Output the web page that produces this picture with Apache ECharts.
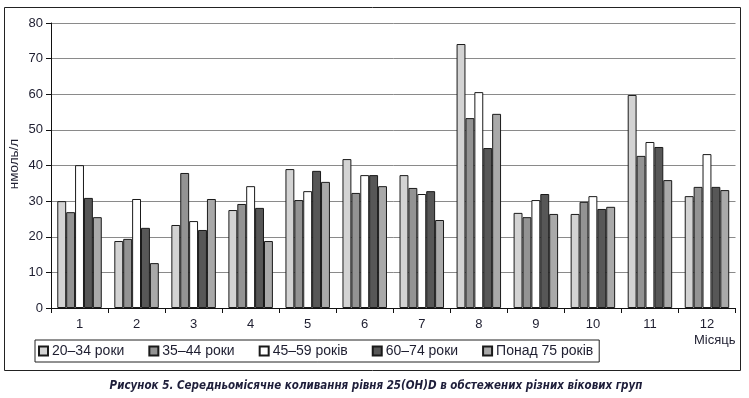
<!DOCTYPE html>
<html>
<head>
<meta charset="utf-8">
<script src="https://cdn.jsdelivr.net/npm/echarts@6/dist/echarts.min.js"></script>
<style>
html,body{margin:0;padding:0;background:#fff;}
#c{width:749px;height:398px;}
</style>
</head>
<body>
<div id="c"></div>
<script>
var months = ['1','2','3','4','5','6','7','8','9','10','11','12'];
var seriesNames = ['20–34 роки','35–44 роки','45–59 років','60–74 роки','Понад 75 років'];
var s20_34 = [30.0, 18.8, 23.3, 27.5, 39.0, 41.8, 37.3, 74.1, 26.7, 26.4, 59.8, 31.4];
var s35_44 = [26.9, 19.4, 37.9, 29.2, 30.3, 32.3, 33.7, 53.3, 25.5, 29.8, 42.7, 34.0];
var s45_59 = [40.1, 30.6, 24.4, 34.2, 32.8, 37.3, 32.0, 60.6, 30.3, 31.4, 46.6, 43.2];
var s60_74 = [30.9, 22.5, 21.9, 28.1, 38.5, 37.3, 32.8, 44.9, 32.0, 27.8, 45.2, 34.0];
var s75 = [25.5, 12.6, 30.6, 18.8, 35.4, 34.2, 24.7, 54.5, 26.4, 28.4, 35.9, 33.1];
var yTicks = [0,10,20,30,40,50,60,70,80];
var colors = ['#d3d3d3','#939393','#ffffff','#575757','#a9a9a9'];
var allData = [s20_34, s35_44, s45_59, s60_74, s75];

var textColor = '#1e1e30';
var font = '"Liberation Sans", Arial, sans-serif';

var chart = echarts.init(document.getElementById('c'), null, {renderer:'canvas'});
var series = seriesNames.map(function(n,i){
  return {
    name: n, type: 'bar', data: allData[i],
    barGap: '0%', barCategoryGap: '22%',
    itemStyle: {color: colors[i], borderColor: '#1a1a1a', borderWidth: 1},
    emphasis: {disabled: true}
  };
});

chart.setOption({
  animation: false,
  backgroundColor: '#fff',
  grid: {left: 51, right: 13.5, top: 23, bottom: 90, containLabel: false},
  legend: {
    data: seriesNames,
    left: 35, top: 340,
    width: 600,
    padding: [4, 6, 4, 3],
    itemWidth: 9, itemHeight: 9, itemGap: 24,
    borderColor: '#222', borderWidth: 1,
    icon: 'rect',
    textStyle: {fontFamily: font, fontSize: 14, color: textColor, padding: [0,0,0,-1]}
  },
  xAxis: {
    type: 'category', data: months,
    boundaryGap: true,
    axisLine: {show: true, lineStyle: {color: '#111', width: 1}},
    axisTick: {show: true, length: 5, inside: false, alignWithLabel: false, lineStyle: {color: '#111'}},
    axisLabel: {fontFamily: font, fontSize: 13, color: textColor, margin: 10},
    name: 'Місяць', nameLocation: 'end',
    nameTextStyle: {fontFamily: font, fontSize: 13, color: textColor, align: 'right', verticalAlign: 'top', padding: [26, 0, 0, 0]},
    nameGap: 0
  },
  yAxis: {
    type: 'value', min: 0, max: 80, interval: 10,
    axisLine: {show: true, lineStyle: {color: '#111', width: 1}},
    axisTick: {show: true, length: 5, lineStyle: {color: '#111'}},
    axisLabel: {fontFamily: font, fontSize: 13, color: textColor, margin: 8,
      formatter: function(v){ return yTicks.indexOf(v) >= 0 ? String(v) : ''; }},
    splitLine: {show: true, lineStyle: {color: '#8a8a8a', width: 1}}
  },
  graphic: [
    {type: 'rect', shape: {x: 4.5, y: 7.5, width: 736, height: 363}, style: {fill: 'none', stroke: '#222', lineWidth: 1}, z: -1, silent: true},
    {type: 'text', x: 14, y: 164, rotation: Math.PI/2,
      style: {text: 'нмоль/л', fontFamily: font, fontSize: 13.5, fill: textColor, textAlign: 'center', textVerticalAlign: 'middle'}},
    {type: 'text', x: 376, y: 386,
      style: {text: 'Рисунок 5. Середньомісячне коливання рівня 25(OH)D в обстежених різних вікових груп',
        fontFamily: '"Liberation Sans Narrow", "DejaVu Sans Condensed", sans-serif', fontSize: 11.5, fontWeight: 'bold', fontStyle: 'italic',
        fill: '#1e1e3a', textAlign: 'center', textVerticalAlign: 'middle'}}
  ],
  series: series
});
</script>
</body>
</html>
